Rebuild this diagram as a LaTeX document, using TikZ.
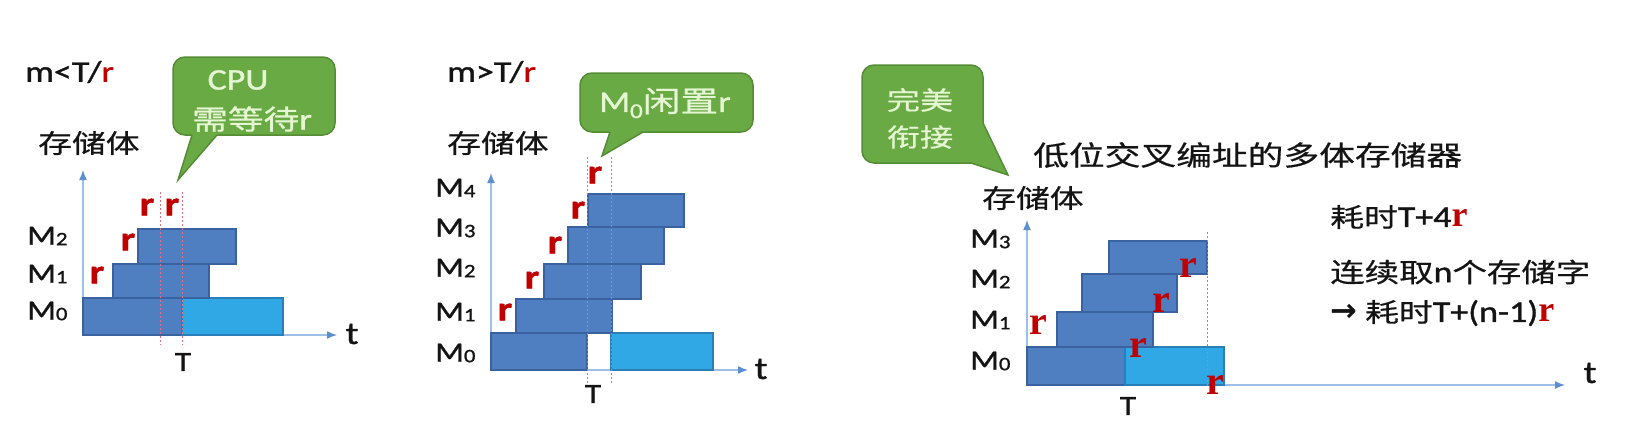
\documentclass[tikz,border=0pt]{standalone}
\usepackage{fontspec}
\setmainfont{Carlito}[FakeStretch=1.2,FakeBold=1.2]
\newfontfamily\cjk{Noto Sans CJK SC}[FakeStretch=1.3,FakeBold=0.6]
\newfontfamily\rserif{Liberation Serif}
\newfontfamily\arrowfont{DejaVu Sans}
\usetikzlibrary{arrows.meta}
\definecolor{boxdark}{HTML}{4F7FC1}
\definecolor{boxdarkline}{HTML}{3A62A0}
\definecolor{boxlight}{HTML}{30A8E6}
\definecolor{boxlightline}{HTML}{2B7FB8}
\definecolor{axisblue}{HTML}{9DBFE6}
\definecolor{axishead}{HTML}{5B8FD0}
\definecolor{rred}{HTML}{C00000}
\definecolor{dashred}{HTML}{E07080}
\definecolor{callfill}{HTML}{6AAA45}
\definecolor{callline}{HTML}{558C36}
\definecolor{calltext}{HTML}{E4F6D2}
\definecolor{ink}{HTML}{141414}
\tikzset{
 darkbox/.style={fill=boxdark, draw=boxdarkline, line width=1.2pt},
 lightbox/.style={fill=boxlight, draw=boxlightline, line width=1.2pt},
 axis/.style={draw=axisblue, line width=1.4pt, -{Latex[length=10pt,width=8pt,color=axishead]}},
 guide/.style={draw=dashred, line width=1pt, dash pattern=on 2pt off 2pt},
 lbl/.style={inner sep=0pt, text=ink},
 rsans/.style={inner sep=0pt, text=rred, font=\fontsize{34}{34}\selectfont\bfseries},
 rser/.style={inner sep=0pt, text=rred, font=\rserif\fontsize{40}{40}\selectfont\bfseries},
 mlab/.style={inner sep=0pt, anchor=west, text=ink, font=\fontsize{28}{28}\selectfont},
 callout/.style={fill=callfill, draw=callline, line width=1.5pt, rounded corners=12pt, inner sep=0pt},
 calltail/.style={draw=callline, line width=1.5pt, line join=miter},
 calltxt/.style={inner sep=0pt, text=calltext},
}
\newcommand{\Msub}[1]{M\raisebox{-0.5pt}{\fontsize{19}{19}\selectfont #1}}
\begin{document}
\begin{tikzpicture}[x=1pt,y=-1pt]
\useasboundingbox (0,0) rectangle (1625,426);

% ================= left panel =================
\node[lbl, anchor=west, font=\fontsize{30}{30}\selectfont] (title1) at (25,72) {m<T/\textcolor{rred}{r}};
\node[lbl, anchor=west, font=\cjk\fontsize{26}{26}\selectfont] (store1) at (38,143) {存储体};
\coordinate (o1) at (83,335);
\coordinate (yt1) at (83,170);
\coordinate (xt1) at (337,335);
\draw[axis] (o1) -- (yt1);
\draw[axis] (o1) -- (xt1);
\draw[darkbox] (83,298) rectangle (182,335);
\draw[lightbox] (182,298) rectangle (283,335);
\draw[darkbox] (113,264) rectangle (209,298);
\draw[darkbox] (138,229) rectangle (236,264);
\draw[guide] (160,192) -- (160,345);
\draw[guide] (182,192) -- (182,345);
\node[mlab] (l1m2) at (27,236) {\Msub{2}};
\node[mlab] (l1m1) at (27,274) {\Msub{1}};
\node[mlab] (l1m0) at (27,311) {\Msub{0}};
\node[rsans] (l1r1) at (147,207) {r};
\node[rsans] (l1r2) at (172,207) {r};
\node[rsans] (l1r3) at (128,242) {r};
\node[rsans] (l1r4) at (97,275) {r};
\node[lbl, font=\fontsize{28}{28}\selectfont] (l1T) at (183,362) {T};
\node[lbl, font=\fontsize{32}{32}\selectfont] (l1t) at (352,334) {t};
% callout 1
\node[callout, minimum width=162pt, minimum height=78pt] (c1) at (254,96) {};
\coordinate (c1tip) at (178,180);
\fill[callfill] (192,135) -- (192,132) -- (217,132) -- (217,135) -- (c1tip) -- cycle;
\draw[calltail] (192,135) -- (c1tip) -- (217,135);
\node[calltxt, font=\fontsize{30}{30}\selectfont] (c1a) at (238,80) {CPU};
\node[calltxt, font=\fontsize{30}{30}\selectfont] (c1b) at (252,119) {{\cjk\fontsize{27.5}{27.5}\selectfont 需等待}r};

% ================= middle panel =================
\node[lbl, anchor=west, font=\fontsize{30}{30}\selectfont] (title2) at (447,72) {m>T/\textcolor{rred}{r}};
\node[lbl, anchor=west, font=\cjk\fontsize{26}{26}\selectfont] (store2) at (447,143) {存储体};
\coordinate (o2) at (491,370);
\coordinate (yt2) at (491,173);
\coordinate (xt2) at (748,370);
\draw[axis] (o2) -- (yt2);
\draw[axis] (o2) -- (xt2);
\draw[darkbox] (491,333) rectangle (587,370);
\draw[lightbox] (611,333) rectangle (713,370);
\draw[darkbox] (516,299) rectangle (612,333);
\draw[darkbox] (544,264) rectangle (641,299);
\draw[darkbox] (568,227) rectangle (664,264);
\draw[darkbox] (588,194) rectangle (684,227);
\draw[guide] (587,157) -- (587,383);
\draw[guide] (611,157) -- (611,383);
\node[mlab] (l2m4) at (435,188) {\Msub{4}};
\node[mlab] (l2m3) at (435,228) {\Msub{3}};
\node[mlab] (l2m2) at (435,268) {\Msub{2}};
\node[mlab] (l2m1) at (435,312) {\Msub{1}};
\node[mlab] (l2m0) at (435,353) {\Msub{0}};
\node[rsans] (l2r1) at (595,175) {r};
\node[rsans] (l2r2) at (578,210) {r};
\node[rsans] (l2r3) at (555,245) {r};
\node[rsans] (l2r4) at (532,280) {r};
\node[rsans] (l2r5) at (505,312) {r};
\node[lbl, font=\fontsize{28}{28}\selectfont] (l2T) at (593,394) {T};
\node[lbl, font=\fontsize{32}{32}\selectfont] (l2t) at (761,369) {t};
% callout 2
\node[callout, minimum width=173pt, minimum height=59pt] (c2) at (666.5,102.5) {};
\coordinate (c2tip) at (602,156);
\fill[callfill] (610,132) -- (610,129) -- (643,129) -- (643,132) -- (c2tip) -- cycle;
\draw[calltail] (610,132) -- (c2tip) -- (643,132);
\node[calltxt, font=\fontsize{30}{30}\selectfont] (c2a) at (665,103) {M\raisebox{-6pt}{\fontsize{21}{21}\selectfont 0}{\cjk\fontsize{29}{29}\selectfont 闲置}r};

% ================= right panel =================
\node[lbl, anchor=west, font=\cjk\fontsize{27.5}{27.5}\selectfont] (title3) at (1033,155) {低位交叉编址的多体存储器};
\node[lbl, anchor=west, font=\cjk\fontsize{26}{26}\selectfont] (store3) at (982,198) {存储体};
\coordinate (o3) at (1027,385);
\coordinate (yt3) at (1027,220);
\coordinate (xt3) at (1565,385);
\draw[axis] (o3) -- (yt3);
\draw[axis] (o3) -- (xt3);
\draw[darkbox] (1027,347) rectangle (1125,385);
\draw[lightbox] (1125,347) rectangle (1224,385);
\draw[darkbox] (1057,312) rectangle (1153,347);
\draw[darkbox] (1082,274) rectangle (1177,312);
\draw[darkbox] (1109,241) rectangle (1207,274);
\draw[guide] (1207,232) -- (1207,387);
\node[mlab] (l3m3) at (970,239) {\Msub{3}};
\node[mlab] (l3m2) at (970,279) {\Msub{2}};
\node[mlab] (l3m1) at (970,320) {\Msub{1}};
\node[mlab] (l3m0) at (970,361) {\Msub{0}};
\node[rser] (l3r1) at (1038,325) {r};
\node[rser] (l3r2) at (1138,348) {r};
\node[rser] (l3r3) at (1161,303) {r};
\node[rser] (l3r4) at (1188,268) {r};
\node[rser] (l3r5) at (1215,385) {r};
\node[lbl, font=\fontsize{28}{28}\selectfont] (l3T) at (1128,406) {T};
\node[lbl, font=\fontsize{32}{32}\selectfont] (l3t) at (1590,373) {t};
% callout 3
\node[callout, minimum width=121pt, minimum height=98pt] (c3) at (922.5,114) {};
\coordinate (c3tip) at (1008,175);
\fill[callfill] (983,123) -- (c3tip) -- (971,163) -- (971,123) -- cycle;
\draw[calltail] (983,123) -- (c3tip) -- (971,163);
\node[calltxt, font=\cjk\fontsize{25.5}{25.5}\selectfont] (c3a) at (920,100) {完美};
\node[calltxt, font=\cjk\fontsize{25.5}{25.5}\selectfont] (c3b) at (920,137) {衔接};
% notes
\node[lbl, anchor=west, font=\fontsize{30}{30}\selectfont] (n1) at (1330,217) {{\cjk\fontsize{26}{26}\selectfont 耗时}T+4{\rserif\bfseries\color{rred}\fontsize{36}{36}\selectfont r}};
\node[lbl, anchor=west, font=\fontsize{30}{30}\selectfont] (n2) at (1330,272) {{\cjk\fontsize{26.5}{26.5}\selectfont 连续取}n{\cjk\fontsize{26.5}{26.5}\selectfont 个存储字}};
\node[lbl, anchor=west, font=\fontsize{30}{30}\selectfont] (n3) at (1330,313) {{\arrowfont\bfseries\fontsize{32}{32}\selectfont →} {\cjk\fontsize{26}{26}\selectfont 耗时}T+(n-1){\rserif\bfseries\color{rred}\fontsize{36}{36}\selectfont r}};
\end{tikzpicture}
\end{document}
